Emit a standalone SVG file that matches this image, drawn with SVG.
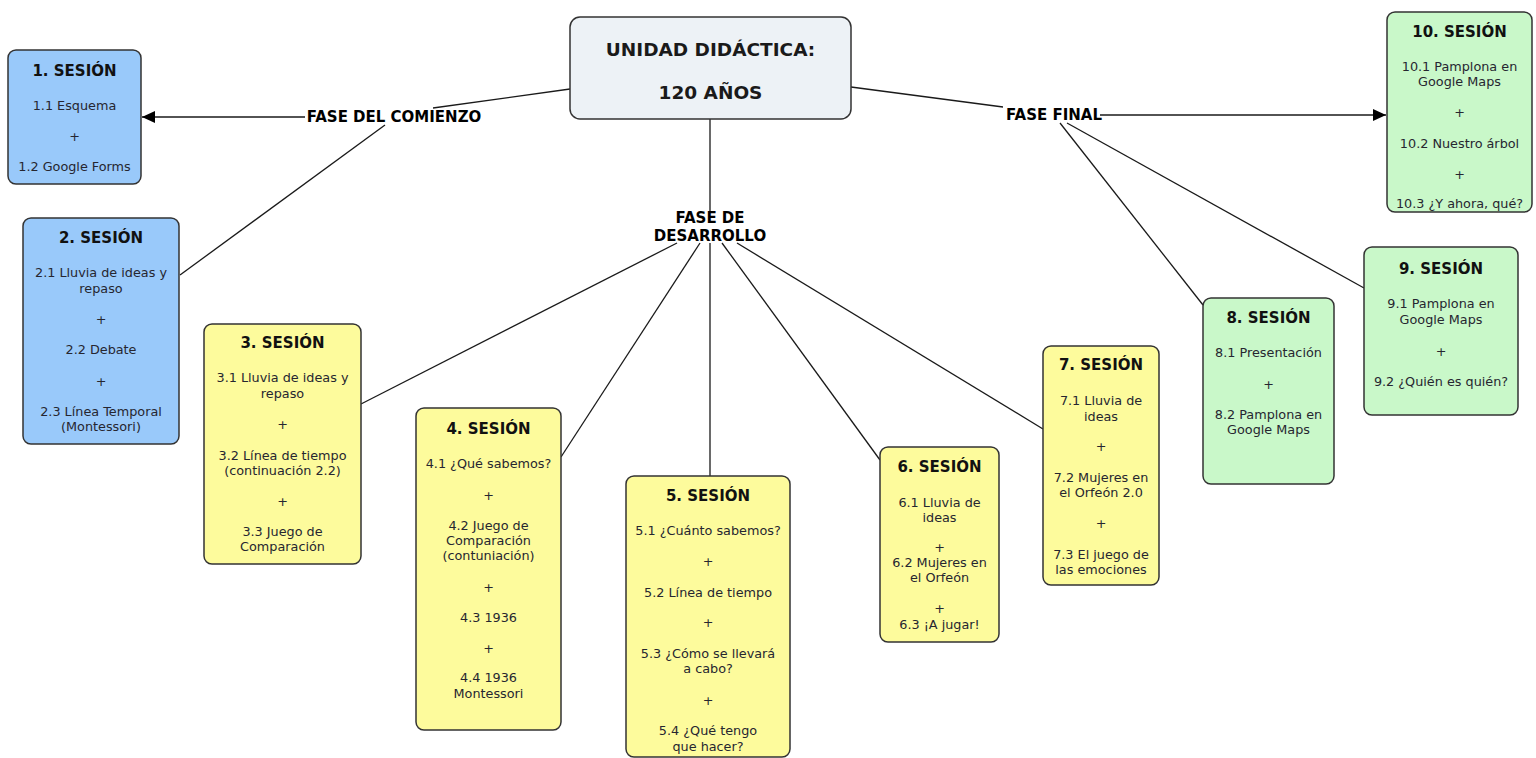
<svg xmlns="http://www.w3.org/2000/svg" width="1536" height="758" viewBox="0 0 1536 758">
  <style>
    .box { stroke: #333333; stroke-width: 1.5; }
    .blue { fill: #99c9fa; }
    .yellow { fill: #fdfb9c; }
    .green { fill: #c9f8c9; }
    .center { fill: #edf2f6; }
    .title { font-family: "DejaVu Sans", Verdana, sans-serif; font-weight: bold; font-size: 15px; fill: #111111; text-anchor: middle; }
    .main { font-family: "DejaVu Sans", Verdana, sans-serif; font-weight: bold; font-size: 18.5px; fill: #1a1a1a; text-anchor: middle; }
    .item { font-family: "DejaVu Sans", Verdana, sans-serif; font-size: 12.8px; fill: #262630; text-anchor: middle; }
    .phase { font-family: "DejaVu Sans", Verdana, sans-serif; font-weight: bold; font-size: 15px; fill: #000000; text-anchor: middle; }
    .link { stroke: #1a1a1a; stroke-width: 1.3; fill: none; }
  </style>
  <defs>
    <marker id="arrow" markerUnits="userSpaceOnUse" markerWidth="14" markerHeight="12" refX="13" refY="6" orient="auto">
      <path d="M0,0 L13,6 L0,12 Z" fill="#000000"/>
    </marker>
  </defs>
  <rect width="1536" height="758" fill="#ffffff"/>

  <!-- connectors -->
  <g id="connectors">
    <line class="link" x1="570" y1="89" x2="433" y2="108"/>
    <line class="link" x1="305" y1="117" x2="142" y2="117" marker-end="url(#arrow)"/>
    <line class="link" x1="385" y1="125" x2="180" y2="275"/>
    <line class="link" x1="710" y1="119" x2="710" y2="213"/>
    <line class="link" x1="677" y1="243" x2="361" y2="404"/>
    <line class="link" x1="700" y1="243" x2="561" y2="457"/>
    <line class="link" x1="710" y1="243" x2="710" y2="476"/>
    <line class="link" x1="722" y1="243" x2="880" y2="460"/>
    <line class="link" x1="737" y1="243" x2="1043" y2="429"/>
    <line class="link" x1="851" y1="87" x2="1003" y2="107"/>
    <line class="link" x1="1100" y1="115" x2="1386" y2="115" marker-end="url(#arrow)"/>
    <line class="link" x1="1060" y1="123" x2="1203" y2="305"/>
    <line class="link" x1="1067" y1="123" x2="1364" y2="288"/>
  </g>

  <!-- phase labels -->
  <g id="phase-start">
    <text class="phase" x="394" y="122">FASE DEL COMIENZO</text>
  </g>
  <g id="phase-development">
    <text class="phase" x="710" y="223">FASE DE</text>
    <text class="phase" x="710" y="241">DESARROLLO</text>
  </g>
  <g id="phase-final">
    <text class="phase" x="1054" y="120">FASE FINAL</text>
  </g>

  <!-- central topic -->
  <g id="unit">
    <rect class="box center" x="570" y="17" width="281" height="102" rx="10"/>
    <text class="main" x="710.5" y="56">UNIDAD DIDÁCTICA:</text>
    <text class="main" x="710.5" y="99">120 AÑOS</text>
  </g>

  <!-- sessions -->
  <g id="session-1">
    <rect class="box blue" x="8" y="50" width="133" height="134" rx="8"/>
    <text class="title" x="74.5" y="76">1. SESIÓN</text>
    <text class="item" x="74.5" y="110">1.1 Esquema</text>
    <text class="item" x="74.5" y="141">+</text>
    <text class="item" x="74.5" y="171">1.2 Google Forms</text>
  </g>

  <g id="session-2">
    <rect class="box blue" x="23" y="218" width="156" height="226" rx="8"/>
    <text class="title" x="101" y="243">2. SESIÓN</text>
    <text class="item" x="101" y="277">2.1 Lluvia de ideas y</text>
    <text class="item" x="101" y="293">repaso</text>
    <text class="item" x="101" y="324">+</text>
    <text class="item" x="101" y="354">2.2 Debate</text>
    <text class="item" x="101" y="386">+</text>
    <text class="item" x="101" y="416">2.3 Línea Temporal</text>
    <text class="item" x="101" y="431">(Montessori)</text>
  </g>

  <g id="session-3">
    <rect class="box yellow" x="204" y="324" width="157" height="240" rx="8"/>
    <text class="title" x="282.5" y="348">3. SESIÓN</text>
    <text class="item" x="282.5" y="382">3.1 Lluvia de ideas y</text>
    <text class="item" x="282.5" y="398">repaso</text>
    <text class="item" x="282.5" y="429">+</text>
    <text class="item" x="282.5" y="460">3.2 Línea de tiempo</text>
    <text class="item" x="282.5" y="475">(continuación 2.2)</text>
    <text class="item" x="282.5" y="506">+</text>
    <text class="item" x="282.5" y="536">3.3 Juego de</text>
    <text class="item" x="282.5" y="551">Comparación</text>
  </g>

  <g id="session-4">
    <rect class="box yellow" x="416" y="408" width="145" height="322" rx="8"/>
    <text class="title" x="488.5" y="434">4. SESIÓN</text>
    <text class="item" x="488.5" y="468">4.1 ¿Qué sabemos?</text>
    <text class="item" x="488.5" y="500">+</text>
    <text class="item" x="488.5" y="530">4.2 Juego de</text>
    <text class="item" x="488.5" y="545">Comparación</text>
    <text class="item" x="488.5" y="560">(contuniación)</text>
    <text class="item" x="488.5" y="592">+</text>
    <text class="item" x="488.5" y="622">4.3 1936</text>
    <text class="item" x="488.5" y="653">+</text>
    <text class="item" x="488.5" y="682">4.4 1936</text>
    <text class="item" x="488.5" y="698">Montessori</text>
  </g>

  <g id="session-5">
    <rect class="box yellow" x="626" y="476" width="164" height="281" rx="8"/>
    <text class="title" x="708" y="501">5. SESIÓN</text>
    <text class="item" x="708" y="535">5.1 ¿Cuánto sabemos?</text>
    <text class="item" x="708" y="566">+</text>
    <text class="item" x="708" y="597">5.2 Línea de tiempo</text>
    <text class="item" x="708" y="627">+</text>
    <text class="item" x="708" y="658">5.3 ¿Cómo se llevará</text>
    <text class="item" x="708" y="673">a cabo?</text>
    <text class="item" x="708" y="705">+</text>
    <text class="item" x="708" y="735">5.4 ¿Qué tengo</text>
    <text class="item" x="708" y="751">que hacer?</text>
  </g>

  <g id="session-6">
    <rect class="box yellow" x="880" y="447" width="119" height="195" rx="8"/>
    <text class="title" x="939.5" y="472">6. SESIÓN</text>
    <text class="item" x="939.5" y="507">6.1 Lluvia de</text>
    <text class="item" x="939.5" y="522">ideas</text>
    <text class="item" x="939.5" y="552">+</text>
    <text class="item" x="939.5" y="567">6.2 Mujeres en</text>
    <text class="item" x="939.5" y="582">el Orfeón</text>
    <text class="item" x="939.5" y="613">+</text>
    <text class="item" x="939.5" y="629">6.3 ¡A jugar!</text>
  </g>

  <g id="session-7">
    <rect class="box yellow" x="1043" y="346" width="116" height="239" rx="8"/>
    <text class="title" x="1101" y="370">7. SESIÓN</text>
    <text class="item" x="1101" y="405">7.1 Lluvia de</text>
    <text class="item" x="1101" y="421">ideas</text>
    <text class="item" x="1101" y="451">+</text>
    <text class="item" x="1101" y="482">7.2 Mujeres en</text>
    <text class="item" x="1101" y="497">el Orfeón 2.0</text>
    <text class="item" x="1101" y="528">+</text>
    <text class="item" x="1101" y="559">7.3 El juego de</text>
    <text class="item" x="1101" y="574">las emociones</text>
  </g>

  <g id="session-8">
    <rect class="box green" x="1203" y="298" width="131" height="186" rx="8"/>
    <text class="title" x="1268.5" y="323">8. SESIÓN</text>
    <text class="item" x="1268.5" y="357">8.1 Presentación</text>
    <text class="item" x="1268.5" y="389">+</text>
    <text class="item" x="1268.5" y="419">8.2 Pamplona en</text>
    <text class="item" x="1268.5" y="434">Google Maps</text>
  </g>

  <g id="session-9">
    <rect class="box green" x="1364" y="247" width="154" height="168" rx="8"/>
    <text class="title" x="1441" y="274">9. SESIÓN</text>
    <text class="item" x="1441" y="308">9.1 Pamplona en</text>
    <text class="item" x="1441" y="324">Google Maps</text>
    <text class="item" x="1441" y="356">+</text>
    <text class="item" x="1441" y="386">9.2 ¿Quién es quién?</text>
  </g>

  <g id="session-10">
    <rect class="box green" x="1387" y="12" width="145" height="200" rx="8"/>
    <text class="title" x="1459.5" y="37">10. SESIÓN</text>
    <text class="item" x="1459.5" y="71">10.1 Pamplona en</text>
    <text class="item" x="1459.5" y="86">Google Maps</text>
    <text class="item" x="1459.5" y="117">+</text>
    <text class="item" x="1459.5" y="148">10.2 Nuestro árbol</text>
    <text class="item" x="1459.5" y="179">+</text>
    <text class="item" x="1459.5" y="208">10.3 ¿Y ahora, qué?</text>
  </g>
</svg>
